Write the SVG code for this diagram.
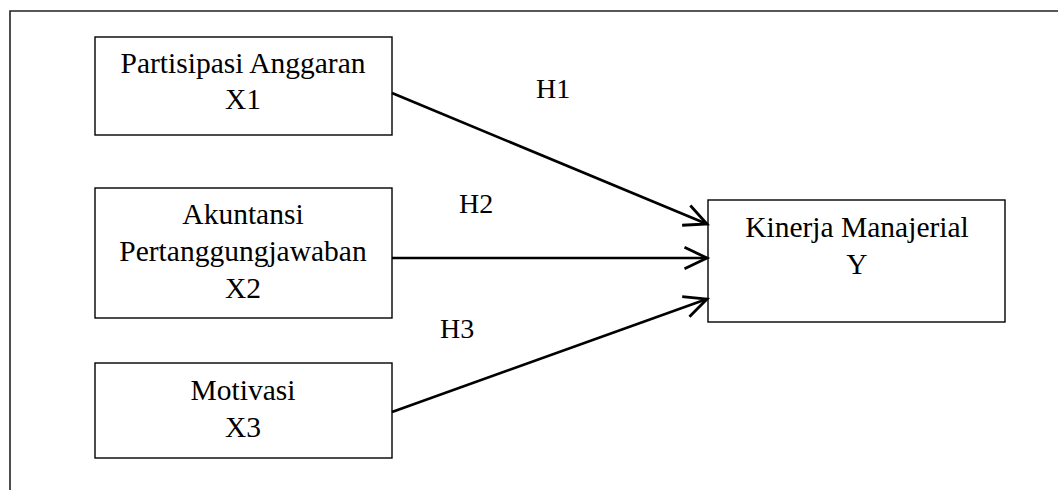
<svg xmlns="http://www.w3.org/2000/svg" width="1058" height="490" viewBox="0 0 1058 490">
<style>
.box{fill:#fff;stroke:#000;stroke-width:1.4}
.t{font-family:"Liberation Serif","Times New Roman",serif;font-size:29.5px;fill:#000;text-anchor:middle}
.lbl{font-family:"Liberation Serif","Times New Roman",serif;font-size:28px;fill:#000}
.conn{stroke:#000;stroke-width:2.6;fill:none}
</style>
<defs>
<marker id="arr" markerUnits="userSpaceOnUse" markerWidth="30" markerHeight="30" viewBox="-24 -12 28 24" refX="0" refY="0" orient="auto">
<path d="M-21,-10 L0,0 L-21,10" fill="none" stroke="#000" stroke-width="2.6"/>
</marker>
</defs>
<rect width="1058" height="490" fill="#fff"/>
<path d="M10,490 V11 H1058" fill="none" stroke="#222" stroke-width="1.6"/>
<g id="x1">
<rect class="box" x="95" y="37" width="297" height="98"/>
<text class="t" x="243" y="73">Partisipasi Anggaran</text>
<text class="t" x="243" y="109">X1</text>
</g>
<g id="x2">
<rect class="box" x="95" y="188" width="297" height="130"/>
<text class="t" x="243" y="224">Akuntansi</text>
<text class="t" x="243" y="261">Pertanggungjawaban</text>
<text class="t" x="243" y="298">X2</text>
</g>
<g id="x3">
<rect class="box" x="95" y="363" width="297" height="95"/>
<text class="t" x="243" y="400">Motivasi</text>
<text class="t" x="243" y="437">X3</text>
</g>
<g id="y">
<rect class="box" x="708" y="200" width="297" height="122"/>
<text class="t" x="857" y="237">Kinerja Manajerial</text>
<text class="t" x="857" y="274">Y</text>
</g>
<g id="connectors">
<line class="conn" x1="392" y1="93" x2="707" y2="224" marker-end="url(#arr)"/>
<line class="conn" x1="392" y1="258" x2="707" y2="258" marker-end="url(#arr)"/>
<line class="conn" x1="392" y1="412" x2="707" y2="299" marker-end="url(#arr)"/>
<text class="lbl" x="536" y="98">H1</text>
<text class="lbl" x="459" y="213">H2</text>
<text class="lbl" x="440" y="338">H3</text>
</g>
</svg>
